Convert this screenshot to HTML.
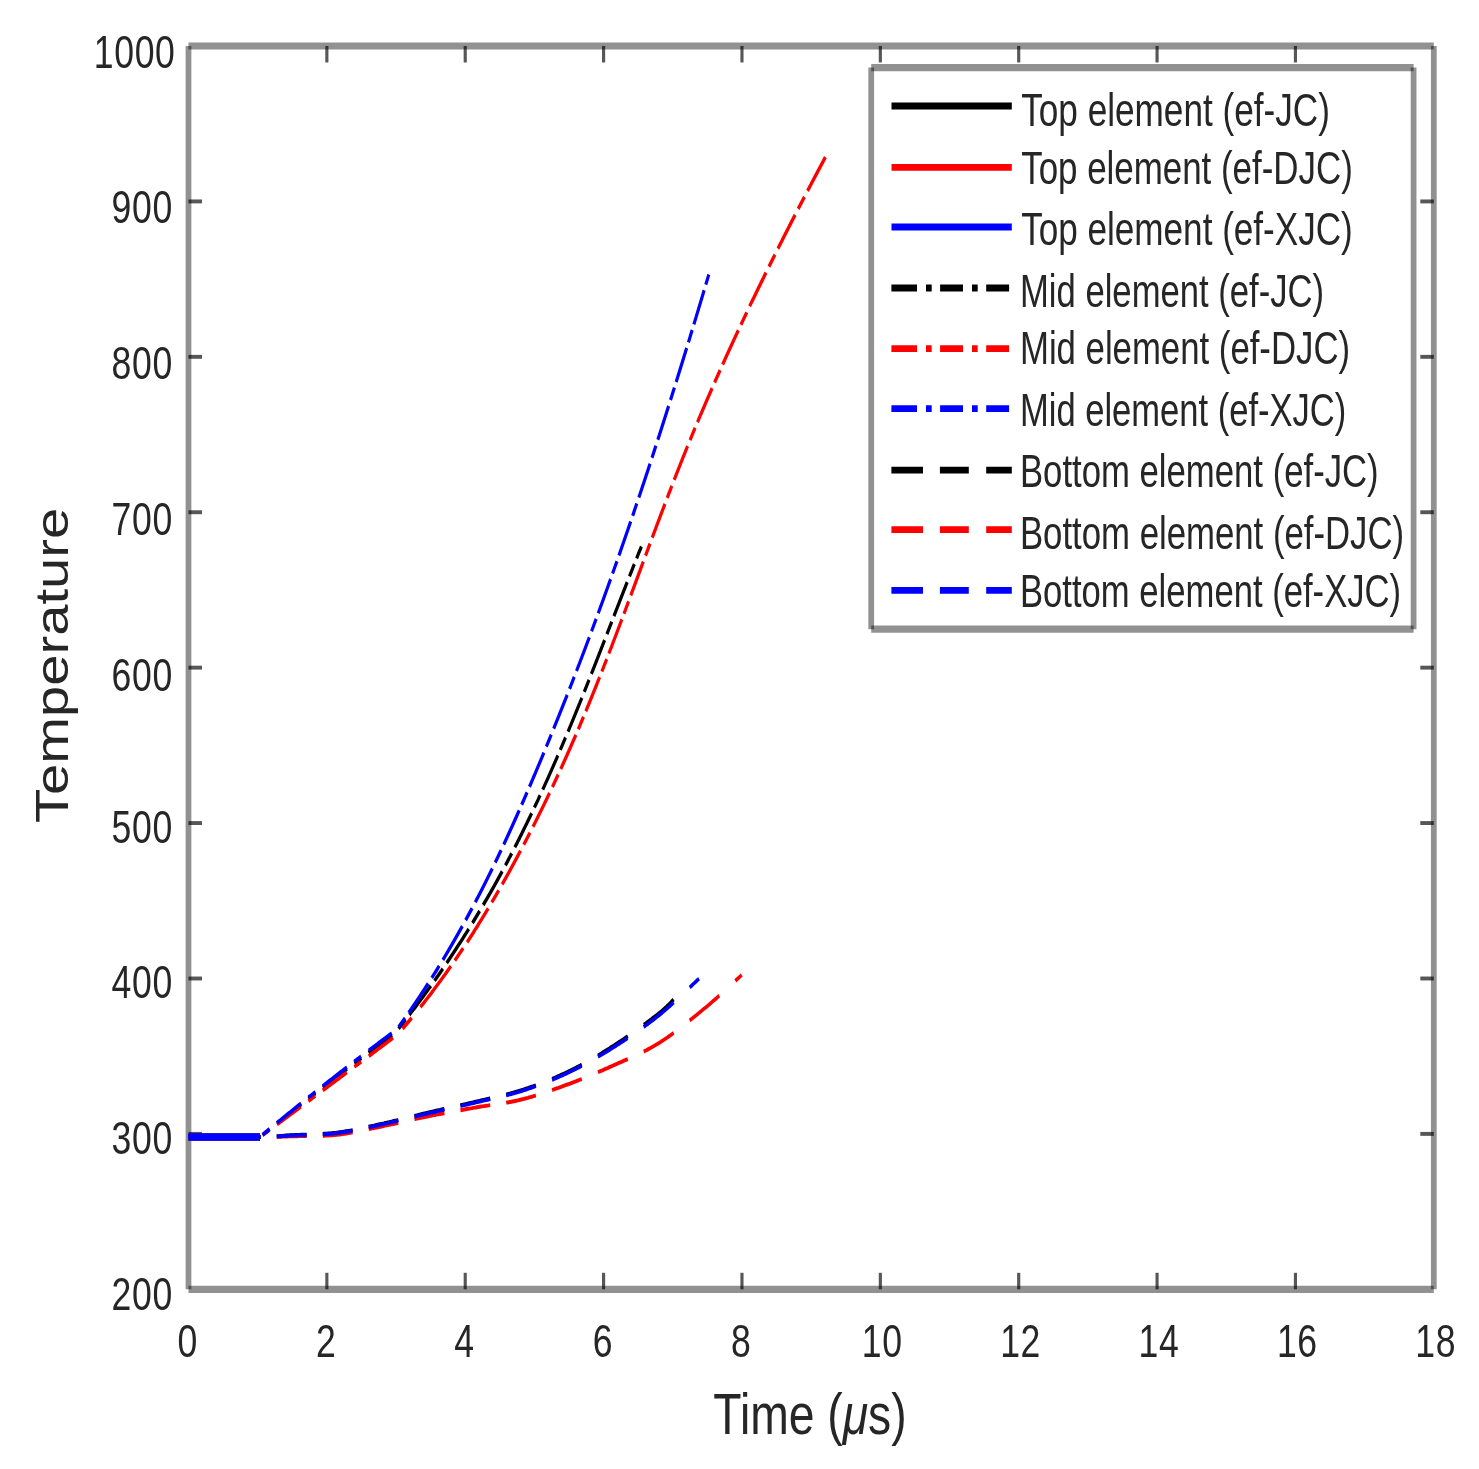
<!DOCTYPE html><html><head><meta charset="utf-8"><style>html,body{margin:0;padding:0;background:#fff;overflow:hidden;width:1479px;height:1469px;}svg{display:block;}svg{will-change:transform;}text{font-family:"Liberation Sans",sans-serif;fill:#262626;}</style></head><body>
<svg width="1479" height="1469" viewBox="0 0 540 430" preserveAspectRatio="none">
<rect x="0" y="0" width="540" height="430" fill="#fff"/>
<line x1="68.82" y1="13.46" x2="523.5" y2="13.46" stroke="rgba(0,0,0,0.43)" stroke-width="2.1"/>
<line x1="523.5" y1="13.46" x2="523.5" y2="377.4" stroke="rgba(0,0,0,0.43)" stroke-width="2.1"/>
<line x1="523.5" y1="377.4" x2="68.82" y2="377.4" stroke="rgba(0,0,0,0.43)" stroke-width="2.1"/>
<line x1="68.82" y1="377.4" x2="68.82" y2="13.46" stroke="rgba(0,0,0,0.43)" stroke-width="2.1"/>
<line x1="119.34" y1="377.4" x2="119.34" y2="372.57" stroke="rgba(0,0,0,0.66)" stroke-width="1.15"/>
<line x1="119.34" y1="13.46" x2="119.34" y2="18.29" stroke="rgba(0,0,0,0.66)" stroke-width="1.15"/>
<line x1="169.86" y1="377.4" x2="169.86" y2="372.57" stroke="rgba(0,0,0,0.66)" stroke-width="1.15"/>
<line x1="169.86" y1="13.46" x2="169.86" y2="18.29" stroke="rgba(0,0,0,0.66)" stroke-width="1.15"/>
<line x1="220.38" y1="377.4" x2="220.38" y2="372.57" stroke="rgba(0,0,0,0.66)" stroke-width="1.15"/>
<line x1="220.38" y1="13.46" x2="220.38" y2="18.29" stroke="rgba(0,0,0,0.66)" stroke-width="1.15"/>
<line x1="270.9" y1="377.4" x2="270.9" y2="372.57" stroke="rgba(0,0,0,0.66)" stroke-width="1.15"/>
<line x1="270.9" y1="13.46" x2="270.9" y2="18.29" stroke="rgba(0,0,0,0.66)" stroke-width="1.15"/>
<line x1="321.42" y1="377.4" x2="321.42" y2="372.57" stroke="rgba(0,0,0,0.66)" stroke-width="1.15"/>
<line x1="321.42" y1="13.46" x2="321.42" y2="18.29" stroke="rgba(0,0,0,0.66)" stroke-width="1.15"/>
<line x1="371.94" y1="377.4" x2="371.94" y2="372.57" stroke="rgba(0,0,0,0.66)" stroke-width="1.15"/>
<line x1="371.94" y1="13.46" x2="371.94" y2="18.29" stroke="rgba(0,0,0,0.66)" stroke-width="1.15"/>
<line x1="422.46" y1="377.4" x2="422.46" y2="372.57" stroke="rgba(0,0,0,0.66)" stroke-width="1.15"/>
<line x1="422.46" y1="13.46" x2="422.46" y2="18.29" stroke="rgba(0,0,0,0.66)" stroke-width="1.15"/>
<line x1="472.98" y1="377.4" x2="472.98" y2="372.57" stroke="rgba(0,0,0,0.66)" stroke-width="1.15"/>
<line x1="472.98" y1="13.46" x2="472.98" y2="18.29" stroke="rgba(0,0,0,0.66)" stroke-width="1.15"/>
<line x1="68.82" y1="331.91" x2="73.75" y2="331.91" stroke="rgba(0,0,0,0.66)" stroke-width="1.15"/>
<line x1="523.5" y1="331.91" x2="518.57" y2="331.91" stroke="rgba(0,0,0,0.66)" stroke-width="1.15"/>
<line x1="68.82" y1="286.42" x2="73.75" y2="286.42" stroke="rgba(0,0,0,0.66)" stroke-width="1.15"/>
<line x1="523.5" y1="286.42" x2="518.57" y2="286.42" stroke="rgba(0,0,0,0.66)" stroke-width="1.15"/>
<line x1="68.82" y1="240.92" x2="73.75" y2="240.92" stroke="rgba(0,0,0,0.66)" stroke-width="1.15"/>
<line x1="523.5" y1="240.92" x2="518.57" y2="240.92" stroke="rgba(0,0,0,0.66)" stroke-width="1.15"/>
<line x1="68.82" y1="195.43" x2="73.75" y2="195.43" stroke="rgba(0,0,0,0.66)" stroke-width="1.15"/>
<line x1="523.5" y1="195.43" x2="518.57" y2="195.43" stroke="rgba(0,0,0,0.66)" stroke-width="1.15"/>
<line x1="68.82" y1="149.94" x2="73.75" y2="149.94" stroke="rgba(0,0,0,0.66)" stroke-width="1.15"/>
<line x1="523.5" y1="149.94" x2="518.57" y2="149.94" stroke="rgba(0,0,0,0.66)" stroke-width="1.15"/>
<line x1="68.82" y1="104.45" x2="73.75" y2="104.45" stroke="rgba(0,0,0,0.66)" stroke-width="1.15"/>
<line x1="523.5" y1="104.45" x2="518.57" y2="104.45" stroke="rgba(0,0,0,0.66)" stroke-width="1.15"/>
<line x1="68.82" y1="58.96" x2="73.75" y2="58.96" stroke="rgba(0,0,0,0.66)" stroke-width="1.15"/>
<line x1="523.5" y1="58.96" x2="518.57" y2="58.96" stroke="rgba(0,0,0,0.66)" stroke-width="1.15"/>
<g fill="none" stroke-width="1.15" stroke-linejoin="round" stroke-linecap="butt">
<path d="M68.82 332.82 L94.93 332.82" stroke="#000" stroke-width="2"/>
<path d="M68.82 332.82 L94.93 332.82" stroke="#f00" stroke-width="2"/>
<path d="M68.82 332.82 L94.93 332.82" stroke="#00f" stroke-width="2"/>
<path d="M68.82 332.82 L69.24 332.82 L69.66 332.82 L70.08 332.82 L70.5 332.82 L70.92 332.82 L71.34 332.82 L71.76 332.82 L72.18 332.82 L72.6 332.82 L73.02 332.82 L73.44 332.82 L73.86 332.82 L74.28 332.82 L74.69 332.82 L75.11 332.82 L75.53 332.82 L75.95 332.82 L76.37 332.82 L76.48 332.82M79.1 332.82 L79.52 332.82 L79.94 332.82 L80.36 332.82 L80.78 332.82 L81.19 332.82 L81.61 332.82M84.34 332.82 L84.76 332.82 L85.18 332.82 L85.6 332.82 L86.02 332.82 L86.44 332.82 L86.86 332.82 L87.28 332.82 L87.69 332.82 L88.11 332.82 L88.53 332.82 L88.95 332.82 L89.37 332.82 L89.79 332.82 L90.21 332.82 L90.63 332.82 L91.05 332.82 L91.47 332.82 L91.89 332.82 L92.31 332.82 L92.73 332.82 L93.15 332.82M95.9 332.19 L96.34 331.91 L96.77 331.64 L97.2 331.36 L97.64 331.08 L98.07 330.8 L98.4 330.59M101.13 328.85 L101.56 328.57 L102 328.29 L102.44 328.02 L102.88 327.74 L103.32 327.46 L103.75 327.18 L104.19 326.9 L104.63 326.62 L105.07 326.35 L105.51 326.07 L105.95 325.79 L106.39 325.51 L106.84 325.23 L107.28 324.95 L107.72 324.68 L108.16 324.4 L108.6 324.12 L109.05 323.84 L109.49 323.56 L109.93 323.28M112.6 321.61 L113.04 321.33 L113.49 321.06 L113.94 320.78 L114.38 320.5 L114.83 320.22 L115.16 320.01M117.85 318.34 L118.3 318.06 L118.75 317.79 L119.2 317.51 L119.65 317.23 L120.1 316.95 L120.55 316.67 L121 316.39 L121.46 316.12 L121.91 315.84 L122.36 315.56 L122.81 315.28 L123.26 315 L123.72 314.72 L124.17 314.44 L124.62 314.17 L125.08 313.89 L125.53 313.61 L125.99 313.33 L126.44 313.05 L126.67 312.91M129.39 311.25 L129.81 311 L130.23 310.74 L130.65 310.49 L131.07 310.23 L131.49 309.98 L131.91 309.72M134.54 308.13 L134.96 307.87 L135.38 307.62 L135.81 307.36 L136.23 307.11 L136.65 306.85 L137.08 306.6 L137.5 306.34 L137.93 306.09 L138.35 305.83 L138.78 305.58 L139.2 305.32 L139.63 305.07 L140.05 304.81 L140.48 304.56 L140.9 304.3 L141.33 304.05 L141.76 303.79 L142.18 303.54 L142.61 303.28 L143.04 303.02 L143.14 302.96M145.51 301.1 L145.94 300.66 L146.38 300.22 L146.81 299.78 L147.24 299.34 L147.67 298.9 L148.09 298.47M149.47 297.04 L149.89 296.6 L150.31 296.16 L150.73 295.72 L151.14 295.29 L151.56 294.85 L151.97 294.41 L152.38 293.97 L152.79 293.53 L153.2 293.09 L153.6 292.65 L154.01 292.21 L154.41 291.78 L154.81 291.34 L155.21 290.9 L155.61 290.46 L156.01 290.02 L156.4 289.58 L156.8 289.14 L157.19 288.71 L157.29 288.6M158.65 287.06 L159.03 286.62 L159.42 286.18 L159.8 285.75 L160.18 285.31 L160.56 284.87 L160.94 284.43 L161.32 283.99 L161.69 283.55M163.09 281.91 L163.46 281.47 L163.82 281.03 L164.19 280.59 L164.55 280.15 L164.92 279.71 L165.28 279.28 L165.64 278.84 L166 278.4 L166.36 277.96 L166.71 277.52 L167.07 277.08 L167.42 276.64 L167.78 276.21 L168.13 275.77 L168.48 275.33 L168.83 274.89 L169.17 274.45 L169.52 274.01 L169.87 273.57 L170.21 273.13 L170.55 272.7 L170.89 272.26 L171.15 271.93M172.5 270.17 L172.83 269.74 L173.16 269.3 L173.49 268.86 L173.82 268.42 L174.15 267.98 L174.48 267.54 L174.81 267.1 L175.13 266.66M176.43 264.91 L176.75 264.47 L177.06 264.03 L177.38 263.59 L177.7 263.16 L178.01 262.72 L178.33 262.28 L178.64 261.84 L178.95 261.4 L179.26 260.96 L179.57 260.52 L179.88 260.09 L180.19 259.65 L180.5 259.21 L180.8 258.77 L181.11 258.33 L181.41 257.89 L181.71 257.45 L182.01 257.02 L182.31 256.58 L182.61 256.14 L182.91 255.7 L183.21 255.26 L183.36 255.04M184.53 253.29 L184.82 252.85 L185.11 252.41 L185.4 251.97 L185.69 251.53 L185.98 251.09 L186.27 250.66 L186.55 250.22 L186.84 249.78M187.97 248.02 L188.25 247.58 L188.53 247.15 L188.81 246.71 L189.08 246.27 L189.36 245.83 L189.64 245.39 L189.91 244.95 L190.18 244.51 L190.46 244.08 L190.73 243.64 L191 243.2 L191.27 242.76 L191.54 242.32 L191.81 241.88 L192.08 241.44 L192.35 241.01 L192.61 240.57 L192.88 240.13 L193.14 239.69 L193.41 239.25 L193.67 238.81 L193.93 238.37 L194.13 238.04M195.1 236.4 L195.36 235.96 L195.62 235.52 L195.88 235.08 L196.13 234.65 L196.39 234.21 L196.64 233.77 L196.9 233.33 L197.15 232.89 L197.21 232.78M198.16 231.14 L198.41 230.7 L198.66 230.26 L198.9 229.82 L199.15 229.38 L199.4 228.94 L199.64 228.5 L199.89 228.07 L200.14 227.63 L200.38 227.19 L200.62 226.75 L200.87 226.31 L201.11 225.87 L201.35 225.43 L201.59 225 L201.83 224.56 L202.07 224.12 L202.31 223.68 L202.55 223.24 L202.79 222.8 L203.03 222.36 L203.27 221.93 L203.5 221.49 L203.68 221.16M204.56 219.51 L204.8 219.07 L205.03 218.64 L205.27 218.2 L205.5 217.76 L205.73 217.32 L205.96 216.88 L206.19 216.44 L206.42 216 L206.48 215.89M207.4 214.14 L207.63 213.7 L207.85 213.26 L208.08 212.82 L208.31 212.39 L208.53 211.95 L208.76 211.51 L208.99 211.07 L209.21 210.63 L209.44 210.19 L209.66 209.75 L209.89 209.31 L210.11 208.88 L210.33 208.44 L210.56 208 L210.78 207.56 L211 207.12 L211.22 206.68 L211.44 206.24 L211.67 205.81 L211.89 205.37 L212.11 204.93 L212.33 204.49 L212.44 204.27M213.32 202.52 L213.54 202.08 L213.75 201.64 L213.97 201.2 L214.19 200.76 L214.41 200.32 L214.63 199.88 L214.84 199.45 L215.06 199.01M215.93 197.25 L216.14 196.81 L216.36 196.38 L216.57 195.94 L216.79 195.5 L217 195.06 L217.22 194.62 L217.43 194.18 L217.65 193.74 L217.86 193.3 L218.08 192.87 L218.29 192.43 L218.51 191.99 L218.72 191.55 L218.93 191.11 L219.15 190.67 L219.36 190.23 L219.57 189.8 L219.79 189.36 L220 188.92 L220.21 188.48 L220.43 188.04 L220.64 187.6 L220.75 187.38M221.6 185.63 L221.81 185.19 L222.02 184.75 L222.24 184.31 L222.45 183.87 L222.66 183.44 L222.88 183 L223.09 182.56 L223.3 182.12 L223.35 182.01M224.15 180.37 L224.36 179.93 L224.58 179.49 L224.79 179.05 L225 178.61 L225.22 178.17 L225.43 177.73 L225.64 177.3 L225.86 176.86 L226.07 176.42 L226.28 175.98 L226.5 175.54 L226.71 175.1 L226.92 174.66 L227.14 174.22 L227.35 173.79 L227.56 173.35 L227.78 172.91 L227.99 172.47 L228.21 172.03 L228.42 171.59 L228.64 171.15 L228.85 170.72 L229.01 170.39M229.82 168.74 L230.04 168.3 L230.25 167.86 L230.47 167.43 L230.69 166.99 L230.9 166.55 L231.12 166.11 L231.34 165.67 L231.55 165.23 L231.61 165.12M232.43 163.48 L232.65 163.04 L232.86 162.6 L233.08 162.16 L233.3 161.72 L233.52 161.29 L233.74 160.85 L233.96 160.41 L234.18 159.97" stroke="#000"/>
<path d="M68.82 332.82 L69.24 332.82 L69.66 332.82 L70.08 332.82 L70.5 332.82 L70.92 332.82 L71.34 332.82 L71.76 332.82 L72.18 332.82 L72.6 332.82 L73.02 332.82 L73.44 332.82 L73.86 332.82 L74.28 332.82 L74.69 332.82 L75.11 332.82 L75.53 332.82 L75.95 332.82 L76.37 332.82 L76.48 332.82M79.1 332.82 L79.52 332.82 L79.94 332.82 L80.36 332.82 L80.78 332.82 L81.19 332.82 L81.61 332.82M84.34 332.82 L84.76 332.82 L85.18 332.82 L85.6 332.82 L86.02 332.82 L86.44 332.82 L86.86 332.82 L87.28 332.82 L87.69 332.82 L88.11 332.82 L88.53 332.82 L88.95 332.82 L89.37 332.82 L89.79 332.82 L90.21 332.82 L90.63 332.82 L91.05 332.82 L91.47 332.82 L91.89 332.82 L92.31 332.82 L92.73 332.82 L93.15 332.82M95.88 332.26 L96.3 332.01 L96.72 331.75 L97.14 331.5 L97.56 331.25 L97.98 331 L98.4 330.75M101.14 329.13 L101.56 328.88 L101.98 328.63 L102.4 328.38 L102.82 328.13 L103.24 327.88 L103.66 327.63 L104.08 327.38 L104.5 327.13 L104.92 326.88 L105.34 326.63 L105.76 326.38 L106.18 326.13 L106.6 325.88 L107.02 325.63 L107.44 325.38 L107.86 325.13 L108.28 324.87 L108.7 324.62 L109.12 324.37 L109.54 324.12 L109.86 323.94M112.59 322.31 L113.01 322.06 L113.43 321.81 L113.85 321.56 L114.27 321.31 L114.68 321.06 L115.1 320.81M117.83 319.18 L118.25 318.93 L118.67 318.68 L119.09 318.43 L119.51 318.18 L119.92 317.93 L120.34 317.68 L120.76 317.43 L121.18 317.18 L121.6 316.93 L122.02 316.68 L122.44 316.43 L122.86 316.18 L123.28 315.93 L123.69 315.68 L124.11 315.43 L124.53 315.18 L124.95 314.93 L125.39 314.67 L125.84 314.4 L126.3 314.12 L126.64 313.92M129.38 312.28 L129.84 312.01 L130.29 311.73 L130.75 311.46 L131.2 311.19 L131.66 310.92 L131.89 310.78M134.62 309.14 L135.08 308.87 L135.53 308.6 L135.99 308.32 L136.44 308.05 L136.9 307.78 L137.35 307.5 L137.81 307.23 L138.26 306.96 L138.72 306.69 L139.18 306.41 L139.63 306.14 L140.09 305.87 L140.54 305.59 L141 305.32 L141.45 305.05 L141.91 304.77 L142.36 304.5 L142.81 304.23 L143.27 303.96 L143.5 303.82M146.98 301.13 L147.45 300.69 L147.91 300.25 L148.37 299.82 L148.83 299.38 L149.29 298.94 L149.74 298.5 L150.19 298.06 L150.3 297.95M153.51 294.77 L153.95 294.33 L154.38 293.89 L154.81 293.45 L155.23 293.01 L155.66 292.57 L156.08 292.13 L156.5 291.7 L156.92 291.26 L157.34 290.82 L157.76 290.38 L158.17 289.94 L158.58 289.5 L158.99 289.06 L159.4 288.62 L159.81 288.18 L160.21 287.75 L160.61 287.31 L161.01 286.87 L161.41 286.43 L161.81 285.99 L162.2 285.55 L162.6 285.11 L162.99 284.67 L163.38 284.23 L163.76 283.8 L164.15 283.36 L164.53 282.92 L164.63 282.81M166.06 281.16 L166.43 280.72 L166.81 280.28 L167.18 279.84 L167.55 279.41 L167.92 278.97 L168.29 278.53 L168.66 278.09 L169.02 277.65 L169.11 277.54M170.55 275.78 L170.91 275.35 L171.27 274.91 L171.62 274.47 L171.97 274.03 L172.32 273.59 L172.67 273.15 L173.02 272.71 L173.37 272.27 L173.71 271.83 L174.06 271.4 L174.4 270.96 L174.74 270.52 L175.08 270.08 L175.42 269.64 L175.76 269.2 L176.09 268.76 L176.43 268.32 L176.76 267.88 L177.1 267.45 L177.43 267.01 L177.76 266.57 L178.09 266.13 L178.25 265.91M179.55 264.15 L179.87 263.71 L180.19 263.28 L180.51 262.84 L180.83 262.4 L181.15 261.96 L181.46 261.52 L181.78 261.08 L182.09 260.64M183.34 258.89 L183.65 258.45 L183.96 258.01 L184.27 257.57 L184.57 257.13 L184.88 256.69 L185.18 256.25 L185.48 255.81 L185.79 255.37 L186.09 254.94 L186.39 254.5 L186.69 254.06 L186.99 253.62 L187.28 253.18 L187.58 252.74 L187.88 252.3 L188.17 251.86 L188.47 251.42 L188.76 250.99 L189.05 250.55 L189.34 250.11 L189.64 249.67 L189.93 249.23 L190.07 249.01M191.22 247.25 L191.51 246.82 L191.79 246.38 L192.08 245.94 L192.36 245.5 L192.64 245.06 L192.93 244.62 L193.21 244.18 L193.49 243.74M194.6 241.99 L194.88 241.55 L195.15 241.11 L195.43 240.67 L195.7 240.23 L195.98 239.79 L196.25 239.35 L196.52 238.91 L196.79 238.48 L197.06 238.04 L197.33 237.6 L197.6 237.16 L197.87 236.72 L198.14 236.28 L198.41 235.84 L198.67 235.4 L198.94 234.96 L199.2 234.53 L199.47 234.09 L199.73 233.65 L199.99 233.21 L200.25 232.77 L200.52 232.33 L200.65 232.11M201.68 230.36 L201.94 229.92 L202.2 229.48 L202.45 229.04 L202.71 228.6 L202.96 228.16 L203.22 227.72 L203.47 227.28 L203.72 226.84 L203.79 226.73M204.73 225.09 L204.98 224.65 L205.23 224.21 L205.47 223.77 L205.72 223.33 L205.97 222.89 L206.21 222.46 L206.46 222.02 L206.71 221.58 L206.95 221.14 L207.19 220.7 L207.44 220.26 L207.68 219.82 L207.92 219.38 L208.16 218.94 L208.4 218.5 L208.64 218.07 L208.88 217.63 L209.12 217.19 L209.36 216.75 L209.6 216.31 L209.84 215.87 L210.07 215.43 L210.25 215.1M211.13 213.46 L211.36 213.02 L211.6 212.58 L211.83 212.14 L212.06 211.7 L212.29 211.26 L212.52 210.82 L212.75 210.38 L212.98 209.95 L213.04 209.84M213.89 208.19 L214.12 207.75 L214.35 207.31 L214.57 206.87 L214.8 206.43 L215.02 206 L215.25 205.56 L215.47 205.12 L215.69 204.68 L215.92 204.24 L216.14 203.8 L216.36 203.36 L216.58 202.92 L216.8 202.48 L217.02 202.05 L217.24 201.61 L217.46 201.17 L217.68 200.73 L217.9 200.29 L218.12 199.85 L218.34 199.41 L218.56 198.97 L218.77 198.53 L218.94 198.2M219.75 196.56 L219.96 196.12 L220.18 195.68 L220.39 195.24 L220.6 194.8 L220.82 194.36 L221.03 193.93 L221.24 193.49 L221.46 193.05 L221.51 192.94M222.3 191.29 L222.51 190.85 L222.73 190.41 L222.94 189.97 L223.15 189.54 L223.36 189.1 L223.57 188.66 L223.78 188.22 L223.98 187.78 L224.19 187.34 L224.4 186.9 L224.61 186.46 L224.82 186.02 L225.03 185.59 L225.23 185.15 L225.44 184.71 L225.65 184.27 L225.85 183.83 L226.06 183.39 L226.27 182.95 L226.47 182.51 L226.68 182.07 L226.89 181.64 L227.04 181.31M227.81 179.66 L228.02 179.22 L228.22 178.78 L228.43 178.34 L228.63 177.9 L228.83 177.47 L229.04 177.03 L229.24 176.59 L229.45 176.15 L229.5 176.04M230.31 174.28 L230.52 173.84 L230.72 173.41 L230.92 172.97 L231.13 172.53 L231.33 172.09 L231.53 171.65 L231.74 171.21 L231.94 170.77 L232.14 170.33 L232.35 169.89 L232.55 169.46 L232.75 169.02 L232.95 168.58 L233.16 168.14 L233.36 167.7 L233.56 167.26 L233.77 166.82 L233.97 166.38 L234.17 165.94 L234.37 165.5 L234.58 165.07 L234.78 164.63 L234.88 164.41M235.69 162.65 L235.9 162.21 L236.1 161.77 L236.3 161.33 L236.51 160.9 L236.71 160.46 L236.91 160.02 L237.12 159.58 L237.32 159.14M238.14 157.38 L238.34 156.95 L238.55 156.51 L238.75 156.07 L238.96 155.63 L239.16 155.19 L239.37 154.75 L239.57 154.31 L239.78 153.87 L239.98 153.43 L240.19 153 L240.39 152.56 L240.6 152.12 L240.81 151.68 L241.01 151.24 L241.22 150.8 L241.43 150.36 L241.63 149.92 L241.84 149.48 L242.05 149.05 L242.26 148.61 L242.47 148.17 L242.67 147.73 L242.78 147.51M243.61 145.75 L243.82 145.31 L244.03 144.88 L244.24 144.44 L244.46 144 L244.67 143.56 L244.88 143.12 L245.09 142.68 L245.3 142.24M246.15 140.49 L246.36 140.05 L246.58 139.61 L246.79 139.17 L247.01 138.73 L247.22 138.29 L247.44 137.85 L247.65 137.41 L247.87 136.97 L248.09 136.54 L248.3 136.1 L248.52 135.66 L248.74 135.22 L248.96 134.78 L249.17 134.34 L249.39 133.9 L249.61 133.46 L249.83 133.02 L250.05 132.59 L250.27 132.15 L250.49 131.71 L250.72 131.27 L250.94 130.83 L251.05 130.61M251.94 128.85 L252.17 128.42 L252.39 127.98 L252.62 127.54 L252.84 127.1 L253.07 126.66 L253.3 126.22 L253.52 125.78 L253.75 125.34 L253.81 125.23M254.67 123.59 L254.9 123.15 L255.13 122.71 L255.36 122.27 L255.59 121.83 L255.82 121.39 L256.06 120.95 L256.29 120.51 L256.52 120.08 L256.76 119.64 L256.99 119.2 L257.22 118.76 L257.46 118.32 L257.69 117.88 L257.93 117.44 L258.17 117 L258.4 116.56 L258.64 116.13 L258.88 115.69 L259.12 115.25 L259.35 114.81 L259.59 114.37 L259.83 113.93 L260.01 113.6M260.92 111.96 L261.16 111.52 L261.4 111.08 L261.64 110.64 L261.89 110.2 L262.13 109.76 L262.37 109.32 L262.62 108.88 L262.86 108.44 L262.92 108.33M263.84 106.69 L264.09 106.25 L264.34 105.81 L264.59 105.37 L264.83 104.93 L265.08 104.49 L265.33 104.06 L265.58 103.62 L265.83 103.18 L266.08 102.74 L266.33 102.3 L266.58 101.86 L266.83 101.42 L267.08 100.98 L267.34 100.54 L267.59 100.1 L267.84 99.67 L268.1 99.23 L268.35 98.79 L268.6 98.35 L268.86 97.91 L269.11 97.47 L269.37 97.03 L269.56 96.7M270.52 95.06 L270.78 94.62 L271.03 94.18 L271.29 93.74 L271.55 93.3 L271.81 92.86 L272.07 92.42 L272.33 91.98 L272.59 91.55 L272.65 91.44M273.7 89.68 L273.96 89.24 L274.22 88.8 L274.48 88.36 L274.75 87.92 L275.01 87.49 L275.27 87.05 L275.54 86.61 L275.8 86.17 L276.07 85.73 L276.33 85.29 L276.6 84.85 L276.86 84.41 L277.13 83.97 L277.4 83.54 L277.66 83.1 L277.93 82.66 L278.2 82.22 L278.47 81.78 L278.73 81.34 L279 80.9 L279.27 80.46 L279.54 80.02 L279.68 79.8M280.76 78.05 L281.03 77.61 L281.3 77.17 L281.57 76.73 L281.84 76.29 L282.12 75.85 L282.39 75.42 L282.66 74.98 L282.94 74.54M284.03 72.78 L284.31 72.34 L284.58 71.9 L284.86 71.47 L285.14 71.03 L285.41 70.59 L285.69 70.15 L285.97 69.71 L286.24 69.27 L286.52 68.83 L286.8 68.39 L287.08 67.95 L287.36 67.51 L287.64 67.08 L287.91 66.64 L288.19 66.2 L288.47 65.76 L288.75 65.32 L289.03 64.88 L289.32 64.44 L289.6 64 L289.88 63.56 L290.16 63.13 L290.3 62.91M291.43 61.15 L291.71 60.71 L292 60.27 L292.28 59.83 L292.57 59.39 L292.85 58.96 L293.14 58.52 L293.42 58.08 L293.71 57.64M294.85 55.88 L295.14 55.44 L295.42 55.01 L295.71 54.57 L296 54.13 L296.29 53.69 L296.58 53.25 L296.86 52.81 L297.15 52.37 L297.44 51.93 L297.73 51.49 L298.02 51.06 L298.31 50.62 L298.6 50.18 L298.89 49.74 L299.18 49.3 L299.47 48.86 L299.76 48.42 L300.05 47.98 L300.35 47.54 L300.64 47.1 L300.93 46.67 L301.22 46.23 L301.37 46.01" stroke="#f00"/>
<path d="M68.82 332.82 L69.24 332.82 L69.66 332.82 L70.08 332.82 L70.5 332.82 L70.92 332.82 L71.34 332.82 L71.76 332.82 L72.18 332.82 L72.6 332.82 L73.02 332.82 L73.44 332.82 L73.86 332.82 L74.28 332.82 L74.69 332.82 L75.11 332.82 L75.53 332.82 L75.95 332.82 L76.37 332.82 L76.48 332.82M79.1 332.82 L79.52 332.82 L79.94 332.82 L80.36 332.82 L80.78 332.82 L81.19 332.82 L81.61 332.82M84.34 332.82 L84.76 332.82 L85.18 332.82 L85.6 332.82 L86.02 332.82 L86.44 332.82 L86.86 332.82 L87.28 332.82 L87.69 332.82 L88.11 332.82 L88.53 332.82 L88.95 332.82 L89.37 332.82 L89.79 332.82 L90.21 332.82 L90.63 332.82 L91.05 332.82 L91.47 332.82 L91.89 332.82 L92.31 332.82 L92.73 332.82 L93.15 332.82M95.88 332.18 L96.31 331.9 L96.73 331.61 L97.16 331.33 L97.59 331.04 L98.01 330.76 L98.44 330.48M101.12 328.7 L101.55 328.42 L101.99 328.13 L102.42 327.85 L102.85 327.57 L103.28 327.28 L103.72 327 L104.15 326.72 L104.59 326.43 L105.02 326.15 L105.46 325.86 L105.89 325.58 L106.33 325.3 L106.76 325.01 L107.2 324.73 L107.64 324.44 L108.08 324.16 L108.52 323.88 L108.96 323.59 L109.4 323.31 L109.84 323.03 L109.95 322.95M112.6 321.25 L113.04 320.97 L113.49 320.68 L113.93 320.4 L114.38 320.12 L114.82 319.83 L115.16 319.62M117.84 317.92 L118.29 317.63 L118.74 317.35 L119.19 317.06 L119.65 316.78 L120.1 316.5 L120.55 316.21 L121 315.93 L121.45 315.65 L121.91 315.36 L122.36 315.08 L122.82 314.79 L123.27 314.51 L123.73 314.23 L124.18 313.94 L124.64 313.66 L125.09 313.37 L125.52 313.11 L125.94 312.85 L126.36 312.59 L126.68 312.39M129.31 310.77 L129.74 310.51 L130.16 310.25 L130.58 309.99 L131.01 309.73 L131.43 309.47 L131.86 309.21M134.63 307.51 L135.06 307.25 L135.49 306.99 L135.92 306.73 L136.35 306.47 L136.78 306.21 L137.21 305.95 L137.64 305.69 L138.07 305.43 L138.5 305.17 L138.93 304.91 L139.36 304.65 L139.8 304.39 L140.23 304.13 L140.66 303.87 L141.1 303.61 L141.53 303.35 L141.97 303.09 L142.4 302.83 L142.84 302.57 L143.06 302.44M145.54 300.62 L145.93 300.18 L146.32 299.74 L146.71 299.3 L147.1 298.87 L147.49 298.43 L147.88 297.99M149.21 296.45 L149.59 296.01 L149.97 295.57 L150.34 295.14 L150.72 294.7 L151.09 294.26 L151.46 293.82 L151.83 293.38 L152.2 292.94 L152.57 292.5 L152.93 292.06 L153.3 291.63 L153.66 291.19 L154.02 290.75 L154.38 290.31 L154.74 289.87 L155.09 289.43 L155.45 288.99 L155.8 288.55 L156.15 288.12 L156.33 287.9M157.64 286.25 L157.98 285.81 L158.32 285.37 L158.67 284.93 L159.01 284.5 L159.35 284.06 L159.69 283.62 L160.02 283.18 L160.36 282.74M161.69 280.98 L162.02 280.55 L162.35 280.11 L162.67 279.67 L163 279.23 L163.32 278.79 L163.65 278.35 L163.97 277.91 L164.29 277.47 L164.61 277.04 L164.93 276.6 L165.24 276.16 L165.56 275.72 L165.87 275.28 L166.19 274.84 L166.5 274.4 L166.81 273.96 L167.12 273.53 L167.43 273.09 L167.74 272.65 L168.05 272.21 L168.35 271.77 L168.66 271.33 L168.81 271.11M170.01 269.36 L170.31 268.92 L170.61 268.48 L170.91 268.04 L171.2 267.6 L171.49 267.16 L171.79 266.72 L172.08 266.29 L172.37 265.85M173.53 264.09 L173.81 263.65 L174.1 263.21 L174.38 262.78 L174.67 262.34 L174.95 261.9 L175.23 261.46 L175.51 261.02 L175.79 260.58 L176.07 260.14 L176.35 259.7 L176.63 259.27 L176.9 258.83 L177.18 258.39 L177.45 257.95 L177.73 257.51 L178 257.07 L178.27 256.63 L178.54 256.19 L178.81 255.75 L179.08 255.32 L179.35 254.88 L179.62 254.44 L179.75 254.22M180.81 252.46 L181.07 252.03 L181.34 251.59 L181.6 251.15 L181.86 250.71 L182.12 250.27 L182.38 249.83 L182.64 249.39 L182.9 248.95 L182.96 248.84M183.92 247.2 L184.18 246.76 L184.43 246.32 L184.69 245.88 L184.94 245.44 L185.19 245 L185.44 244.57 L185.69 244.13 L185.94 243.69 L186.19 243.25 L186.44 242.81 L186.69 242.37 L186.94 241.93 L187.19 241.49 L187.43 241.06 L187.68 240.62 L187.92 240.18 L188.17 239.74 L188.41 239.3 L188.66 238.86 L188.9 238.42 L189.14 237.98 L189.39 237.55 L189.57 237.22M190.47 235.57 L190.71 235.13 L190.95 234.69 L191.19 234.25 L191.42 233.82 L191.66 233.38 L191.9 232.94 L192.14 232.5 L192.37 232.06 L192.43 231.95M193.31 230.31 L193.55 229.87 L193.78 229.43 L194.02 228.99 L194.25 228.55 L194.48 228.11 L194.72 227.67 L194.95 227.23 L195.18 226.8 L195.41 226.36 L195.64 225.92 L195.87 225.48 L196.1 225.04 L196.33 224.6 L196.56 224.16 L196.79 223.72 L197.02 223.28 L197.25 222.85 L197.48 222.41 L197.71 221.97 L197.94 221.53 L198.17 221.09 L198.39 220.65 L198.56 220.32M199.47 218.57 L199.7 218.13 L199.92 217.69 L200.15 217.25 L200.37 216.81 L200.6 216.37 L200.82 215.94 L201.04 215.5 L201.27 215.06M202.16 213.3 L202.38 212.86 L202.6 212.42 L202.82 211.99 L203.04 211.55 L203.26 211.11 L203.49 210.67 L203.71 210.23 L203.93 209.79 L204.15 209.35 L204.36 208.91 L204.58 208.48 L204.8 208.04 L205.02 207.6 L205.24 207.16 L205.46 206.72 L205.67 206.28 L205.89 205.84 L206.11 205.4 L206.33 204.97 L206.54 204.53 L206.76 204.09 L206.97 203.65 L207.08 203.43M207.94 201.67 L208.16 201.24 L208.37 200.8 L208.58 200.36 L208.8 199.92 L209.01 199.48 L209.22 199.04 L209.43 198.6 L209.65 198.16M210.49 196.41 L210.7 195.97 L210.91 195.53 L211.13 195.09 L211.34 194.65 L211.55 194.22 L211.75 193.78 L211.96 193.34 L212.17 192.9 L212.38 192.46 L212.59 192.02 L212.8 191.58 L213.01 191.14 L213.21 190.7 L213.42 190.27 L213.63 189.83 L213.83 189.39 L214.04 188.95 L214.25 188.51 L214.45 188.07 L214.66 187.63 L214.87 187.19 L215.07 186.76 L215.17 186.54M215.99 184.78 L216.19 184.34 L216.4 183.9 L216.6 183.47 L216.8 183.03 L217.01 182.59 L217.21 182.15 L217.41 181.71 L217.61 181.27 L217.66 181.16M218.42 179.52 L218.62 179.08 L218.82 178.64 L219.02 178.2 L219.22 177.76 L219.42 177.32 L219.62 176.88 L219.82 176.44 L220.02 176.01 L220.22 175.57 L220.42 175.13 L220.62 174.69 L220.81 174.25 L221.01 173.81 L221.21 173.37 L221.41 172.93 L221.6 172.5 L221.8 172.06 L222 171.62 L222.19 171.18 L222.39 170.74 L222.59 170.3 L222.78 169.86 L222.93 169.53M223.66 167.89 L223.85 167.45 L224.05 167.01 L224.24 166.57 L224.44 166.13 L224.63 165.69 L224.82 165.26 L225.02 164.82 L225.21 164.38 L225.26 164.27M225.98 162.62 L226.17 162.18 L226.36 161.75 L226.55 161.31 L226.74 160.87 L226.93 160.43 L227.12 159.99 L227.31 159.55 L227.5 159.11 L227.69 158.67 L227.88 158.23 L228.07 157.8 L228.26 157.36 L228.45 156.92 L228.64 156.48 L228.83 156.04 L229.02 155.6 L229.21 155.16 L229.39 154.72 L229.58 154.29 L229.77 153.85 L229.96 153.41 L230.14 152.97 L230.29 152.64M230.98 150.99 L231.17 150.56 L231.36 150.12 L231.54 149.68 L231.73 149.24 L231.91 148.8 L232.1 148.36 L232.28 147.92 L232.47 147.48 L232.51 147.37M233.25 145.62 L233.43 145.18 L233.62 144.74 L233.8 144.3 L233.98 143.86 L234.17 143.43 L234.35 142.99 L234.53 142.55 L234.71 142.11 L234.9 141.67 L235.08 141.23 L235.26 140.79 L235.44 140.35 L235.62 139.92 L235.8 139.48 L235.98 139.04 L236.17 138.6 L236.35 138.16 L236.53 137.72 L236.71 137.28 L236.89 136.84 L237.07 136.41 L237.25 135.97 L237.34 135.75M238.05 133.99 L238.23 133.55 L238.41 133.11 L238.59 132.68 L238.77 132.24 L238.94 131.8 L239.12 131.36 L239.3 130.92 L239.48 130.48M240.19 128.73 L240.36 128.29 L240.54 127.85 L240.72 127.41 L240.89 126.97 L241.07 126.53 L241.24 126.09 L241.42 125.66 L241.59 125.22 L241.77 124.78 L241.94 124.34 L242.12 123.9 L242.29 123.46 L242.47 123.02 L242.64 122.58 L242.82 122.14 L242.99 121.71 L243.17 121.27 L243.34 120.83 L243.51 120.39 L243.69 119.95 L243.86 119.51 L244.03 119.07 L244.12 118.85M244.81 117.1 L244.98 116.66 L245.16 116.22 L245.33 115.78 L245.5 115.34 L245.67 114.9 L245.84 114.47 L246.02 114.03 L246.19 113.59 L246.23 113.48M246.87 111.83 L247.04 111.39 L247.21 110.96 L247.38 110.52 L247.55 110.08 L247.72 109.64 L247.89 109.2 L248.06 108.76 L248.23 108.32 L248.4 107.88 L248.57 107.45 L248.74 107.01 L248.91 106.57 L249.08 106.13 L249.25 105.69 L249.42 105.25 L249.59 104.81 L249.75 104.37 L249.92 103.94 L250.09 103.5 L250.26 103.06 L250.43 102.62 L250.59 102.18 L250.72 101.85M251.35 100.21 L251.52 99.77 L251.68 99.33 L251.85 98.89 L252.02 98.45 L252.18 98.01 L252.35 97.57 L252.52 97.13 L252.68 96.7 L252.72 96.59M253.35 94.94 L253.51 94.5 L253.68 94.06 L253.84 93.62 L254.01 93.19 L254.17 92.75 L254.34 92.31 L254.5 91.87 L254.67 91.43 L254.83 90.99 L255 90.55 L255.16 90.11 L255.33 89.67 L255.49 89.24 L255.66 88.8 L255.82 88.36 L255.98 87.92 L256.15 87.48 L256.31 87.04 L256.48 86.6 L256.64 86.16 L256.8 85.73 L256.97 85.29 L257.09 84.96M257.7 83.31 L257.86 82.87 L258.03 82.43 L258.19 82 L258.35 81.56 L258.51 81.12 L258.68 80.68 L258.8 80.35" stroke="#00f"/>
<path d="M68.82 332.82 L69.24 332.82 L69.66 332.82 L70.08 332.82 L70.5 332.82 L70.92 332.82 L71.34 332.82 L71.76 332.82 L72.18 332.82 L72.6 332.82 L73.02 332.82 L73.44 332.82 L73.86 332.82 L74.28 332.82 L74.69 332.82 L75.11 332.82 L75.53 332.82 L75.95 332.82 L76.37 332.82 L76.79 332.82 L77.21 332.82 L77.63 332.82 L78.05 332.82 L78.47 332.82M84.34 332.82 L84.76 332.82 L85.18 332.82 L85.6 332.82 L86.02 332.82 L86.44 332.82 L86.86 332.82 L87.28 332.82 L87.69 332.82 L88.11 332.82 L88.53 332.82 L88.95 332.82 L89.37 332.82 L89.79 332.82 L90.21 332.82 L90.63 332.82 L91.05 332.82 L91.47 332.82 L91.89 332.82 L92.31 332.82 L92.73 332.82 L93.15 332.82 L93.57 332.82 L93.99 332.82 L94.4 332.82 L94.82 332.82 L95.25 332.81M101.06 332.62 L101.57 332.59 L102.07 332.55 L102.57 332.52 L103.09 332.49 L103.62 332.45 L104.04 332.43 L104.48 332.4 L104.94 332.37 L105.44 332.35 L105.86 332.32 L106.31 332.3 L106.78 332.28 L107.26 332.26 L107.75 332.24 L108.17 332.23 L108.6 332.21 L109.03 332.2 L109.47 332.19 L109.91 332.18 L110.36 332.16 L110.81 332.15 L111.27 332.14 L111.73 332.13 L111.96 332.12M117.86 331.92 L118.34 331.89 L118.83 331.87 L119.32 331.84 L119.8 331.81 L120.29 331.78 L120.77 331.75 L121.25 331.71 L121.73 331.67 L122.2 331.63 L122.68 331.59 L123.14 331.54 L123.61 331.49 L124.08 331.44 L124.54 331.39 L125.01 331.33 L125.48 331.27 L125.95 331.21 L126.41 331.15 L126.88 331.09 L127.35 331.02 L127.82 330.95 L128.28 330.89 L128.75 330.81M134.61 329.83 L135.07 329.74 L135.54 329.66 L136.01 329.57 L136.48 329.49 L136.94 329.4 L137.41 329.32 L137.88 329.23 L138.35 329.15 L138.81 329.07 L139.28 328.98 L139.74 328.9 L140.21 328.82 L140.67 328.73 L141.14 328.65 L141.6 328.56 L142.07 328.48 L142.53 328.39 L143 328.3 L143.46 328.22 L143.92 328.13 L144.39 328.04 L144.85 327.95 L145.31 327.86 L145.43 327.83M151.33 326.66 L151.79 326.56 L152.25 326.47 L152.72 326.38 L153.18 326.29 L153.64 326.19 L154.11 326.1 L154.57 326.01 L155.04 325.92 L155.5 325.83 L155.96 325.74 L156.43 325.65 L156.9 325.57 L157.36 325.48 L157.83 325.39 L158.29 325.31 L158.76 325.22 L159.23 325.13 L159.69 325.05 L160.16 324.96 L160.63 324.88 L161.09 324.79 L161.56 324.71 L162.03 324.63 L162.26 324.58M168.11 323.54 L168.58 323.45 L169.05 323.37 L169.52 323.28 L169.99 323.19 L170.45 323.11 L170.92 323.02 L171.39 322.93 L171.86 322.85 L172.33 322.76 L172.79 322.67 L173.26 322.58 L173.73 322.49 L174.19 322.4 L174.66 322.32 L175.13 322.23 L175.6 322.14 L176.06 322.05 L176.53 321.97 L177 321.88 L177.46 321.8 L177.93 321.71 L178.4 321.63 L178.86 321.54 L178.98 321.52M184.81 320.41 L185.28 320.31 L185.74 320.21 L186.21 320.11 L186.68 320.01 L187.14 319.91 L187.61 319.8 L188.08 319.69 L188.54 319.58 L189.01 319.47 L189.47 319.36 L189.94 319.24 L190.41 319.12 L190.87 319 L191.34 318.87 L191.8 318.75 L192.27 318.62 L192.74 318.5 L193.2 318.37 L193.67 318.24 L194.13 318.11 L194.6 317.98 L195.06 317.84 L195.53 317.71 L195.65 317.67M201.58 315.81 L202.05 315.65 L202.51 315.49 L202.98 315.33 L203.44 315.17 L203.91 315 L204.37 314.83 L204.84 314.66 L205.3 314.49 L205.77 314.32 L206.23 314.15 L206.7 313.97 L207.16 313.79 L207.63 313.61 L208.09 313.43 L208.56 313.24 L209.02 313.06 L209.49 312.87 L209.95 312.68 L210.42 312.48 L210.88 312.29 L211.35 312.09 L211.82 311.9 L212.28 311.7 L212.4 311.65M218.32 308.94 L218.79 308.72 L219.25 308.5 L219.71 308.27 L220.18 308.04 L220.64 307.82 L221.11 307.59 L221.57 307.35 L222.03 307.12 L222.5 306.89 L222.96 306.65 L223.42 306.42 L223.89 306.18 L224.35 305.94 L224.83 305.69 L225.3 305.44 L225.79 305.19 L226.24 304.95 L226.66 304.72 L227.09 304.49 L227.51 304.26 L227.94 304.03 L228.37 303.79 L228.8 303.55 L229.23 303.32M235.06 299.98 L235.53 299.71 L235.99 299.44 L236.44 299.17 L236.88 298.9 L237.32 298.64 L237.77 298.37 L238.26 298.06 L238.74 297.77 L239.21 297.48 L239.66 297.2 L240.11 296.91 L240.62 296.59 L241.11 296.27 L241.58 295.96 L242.03 295.64 L242.46 295.34 L242.9 295.01 L243.43 294.61 L243.93 294.23 L244.39 293.86 L244.83 293.49 L245.39 293.02 L245.95 292.54" stroke="#000"/>
<path d="M68.82 332.82 L69.24 332.82 L69.66 332.82 L70.08 332.82 L70.5 332.82 L70.92 332.82 L71.34 332.82 L71.76 332.82 L72.18 332.82 L72.6 332.82 L73.02 332.82 L73.44 332.82 L73.86 332.82 L74.28 332.82 L74.69 332.82 L75.11 332.82 L75.53 332.82 L75.95 332.82 L76.37 332.82 L76.79 332.82 L77.21 332.82 L77.63 332.82 L78.05 332.82 L78.47 332.82M84.34 332.82 L84.76 332.82 L85.18 332.82 L85.6 332.82 L86.02 332.82 L86.44 332.82 L86.86 332.82 L87.28 332.82 L87.69 332.82 L88.11 332.82 L88.53 332.82 L88.95 332.82 L89.37 332.82 L89.79 332.82 L90.21 332.82 L90.63 332.82 L91.05 332.82 L91.47 332.82 L91.89 332.82 L92.31 332.82 L92.73 332.82 L93.15 332.82 L93.57 332.82 L93.99 332.82 L94.4 332.82 L94.82 332.82 L95.25 332.82M101.06 332.75 L101.57 332.74 L102.07 332.73 L102.57 332.72 L103.09 332.7 L103.62 332.69 L104.04 332.68 L104.48 332.67 L104.94 332.65 L105.44 332.64 L105.86 332.63 L106.31 332.62 L106.78 332.61 L107.26 332.6 L107.75 332.59 L108.17 332.58 L108.6 332.58 L109.03 332.57 L109.47 332.57 L109.91 332.57 L110.36 332.56 L110.81 332.56 L111.27 332.56 L111.73 332.55 L111.96 332.55M117.86 332.45 L118.34 332.44 L118.83 332.42 L119.32 332.4 L119.8 332.38 L120.29 332.35 L120.77 332.33 L121.25 332.3 L121.73 332.27 L122.2 332.23 L122.68 332.19 L123.14 332.15 L123.61 332.11 L124.08 332.07 L124.54 332.02 L125.01 331.97 L125.48 331.91 L125.95 331.86 L126.41 331.8 L126.88 331.74 L127.35 331.68 L127.82 331.61 L128.28 331.55 L128.75 331.48M134.61 330.53 L135.07 330.45 L135.54 330.37 L136.01 330.29 L136.48 330.21 L136.94 330.13 L137.41 330.05 L137.88 329.97 L138.35 329.89 L138.81 329.81 L139.28 329.73 L139.74 329.66 L140.21 329.58 L140.67 329.5 L141.14 329.42 L141.6 329.35 L142.07 329.27 L142.53 329.19 L143 329.11 L143.46 329.03 L143.92 328.94 L144.39 328.86 L144.85 328.78 L145.31 328.7 L145.43 328.68M151.33 327.61 L151.79 327.52 L152.25 327.44 L152.72 327.36 L153.18 327.28 L153.64 327.2 L154.11 327.12 L154.57 327.04 L155.04 326.96 L155.5 326.88 L155.96 326.8 L156.43 326.73 L156.9 326.65 L157.36 326.58 L157.83 326.5 L158.29 326.43 L158.76 326.36 L159.23 326.28 L159.69 326.21 L160.16 326.14 L160.63 326.07 L161.09 326 L161.56 325.93 L162.03 325.86 L162.26 325.82M168.11 324.97 L168.58 324.9 L169.05 324.83 L169.52 324.77 L169.99 324.7 L170.45 324.63 L170.92 324.57 L171.39 324.5 L171.86 324.43 L172.33 324.37 L172.79 324.3 L173.26 324.23 L173.73 324.17 L174.19 324.1 L174.66 324.04 L175.13 323.97 L175.6 323.91 L176.06 323.85 L176.53 323.79 L177 323.74 L177.46 323.68 L177.93 323.62 L178.4 323.57 L178.86 323.51 L178.98 323.5M184.81 322.77 L185.28 322.7 L185.74 322.64 L186.21 322.57 L186.68 322.5 L187.14 322.42 L187.61 322.35 L188.08 322.27 L188.54 322.19 L189.01 322.11 L189.47 322.02 L189.94 321.93 L190.41 321.84 L190.87 321.75 L191.34 321.65 L191.8 321.55 L192.27 321.45 L192.74 321.35 L193.2 321.24 L193.67 321.13 L194.13 321.03 L194.6 320.92 L195.06 320.8 L195.53 320.69 L195.65 320.66M201.58 319.08 L202.05 318.94 L202.51 318.81 L202.98 318.68 L203.44 318.54 L203.91 318.41 L204.37 318.27 L204.84 318.14 L205.3 318 L205.77 317.86 L206.23 317.73 L206.7 317.59 L207.16 317.45 L207.63 317.31 L208.09 317.17 L208.56 317.03 L209.02 316.89 L209.49 316.75 L209.95 316.6 L210.42 316.46 L210.88 316.31 L211.35 316.17 L211.81 316.02 L212.28 315.87 L212.39 315.83M218.31 313.86 L218.78 313.7 L219.24 313.54 L219.71 313.38 L220.17 313.22 L220.64 313.05 L221.1 312.89 L221.56 312.72 L222.03 312.56 L222.49 312.39 L222.96 312.22 L223.42 312.06 L223.89 311.89 L224.35 311.72 L224.82 311.55 L225.28 311.39 L225.74 311.22 L226.21 311.06 L226.67 310.89 L227.14 310.73 L227.6 310.56 L228.07 310.4 L228.53 310.24 L228.99 310.07 L229.23 309.99M235.03 307.81 L235.49 307.62 L235.96 307.43 L236.42 307.23 L236.89 307.03 L237.35 306.83 L237.82 306.62 L238.28 306.41 L238.75 306.2 L239.21 305.98 L239.68 305.76 L240.14 305.53 L240.61 305.3 L241.08 305.06 L241.55 304.82 L242.02 304.58 L242.49 304.32 L242.97 304.06 L243.44 303.8 L243.92 303.53 L244.4 303.26 L244.88 302.99 L245.36 302.7 L245.85 302.42 L245.97 302.35M251.82 298.72 L252.29 298.41 L252.75 298.11 L253.21 297.81 L253.67 297.51 L254.13 297.22 L254.58 296.92 L255.02 296.63 L255.47 296.34 L255.9 296.05 L256.34 295.76 L256.77 295.48 L257.19 295.2 L257.62 294.92 L258.04 294.64 L258.47 294.35 L258.9 294.05 L259.33 293.76 L259.77 293.45 L260.21 293.15 L260.65 292.84 L261.09 292.53 L261.53 292.22 L261.96 291.91 L262.4 291.59 L262.62 291.44M268.48 287.12 L268.94 286.77 L269.38 286.44 L269.92 286.05 L270.39 285.7 L270.8 285.4" stroke="#f00"/>
<path d="M68.82 332.82 L69.24 332.82 L69.66 332.82 L70.08 332.82 L70.5 332.82 L70.92 332.82 L71.34 332.82 L71.76 332.82 L72.18 332.82 L72.6 332.82 L73.02 332.82 L73.44 332.82 L73.86 332.82 L74.28 332.82 L74.69 332.82 L75.11 332.82 L75.53 332.82 L75.95 332.82 L76.37 332.82 L76.79 332.82 L77.21 332.82 L77.63 332.82 L78.05 332.82 L78.47 332.82M84.34 332.82 L84.76 332.82 L85.18 332.82 L85.6 332.82 L86.02 332.82 L86.44 332.82 L86.86 332.82 L87.28 332.82 L87.69 332.82 L88.11 332.82 L88.53 332.82 L88.95 332.82 L89.37 332.82 L89.79 332.82 L90.21 332.82 L90.63 332.82 L91.05 332.82 L91.47 332.82 L91.89 332.82 L92.31 332.82 L92.73 332.82 L93.15 332.82 L93.57 332.82 L93.99 332.82 L94.4 332.82 L94.82 332.82 L95.25 332.81M101.06 332.66 L101.57 332.63 L102.07 332.61 L102.57 332.58 L103.09 332.55 L103.62 332.52 L104.04 332.5 L104.48 332.47 L104.94 332.45 L105.44 332.43 L105.86 332.41 L106.31 332.39 L106.78 332.37 L107.26 332.35 L107.75 332.33 L108.17 332.32 L108.6 332.31 L109.03 332.3 L109.47 332.28 L109.91 332.27 L110.36 332.26 L110.81 332.25 L111.27 332.24 L111.73 332.23 L111.96 332.22M117.86 332.03 L118.34 332 L118.83 331.98 L119.32 331.95 L119.8 331.92 L120.29 331.89 L120.77 331.86 L121.25 331.82 L121.73 331.79 L122.2 331.75 L122.68 331.7 L123.14 331.66 L123.61 331.61 L124.08 331.56 L124.54 331.51 L125.01 331.45 L125.48 331.4 L125.95 331.34 L126.41 331.28 L126.88 331.22 L127.35 331.15 L127.82 331.09 L128.28 331.02 L128.75 330.95M134.61 329.98 L135.07 329.9 L135.54 329.82 L136.01 329.74 L136.48 329.65 L136.94 329.57 L137.41 329.49 L137.88 329.4 L138.35 329.32 L138.81 329.24 L139.28 329.16 L139.74 329.07 L140.21 328.99 L140.67 328.91 L141.14 328.83 L141.6 328.74 L142.07 328.66 L142.53 328.57 L143 328.49 L143.46 328.4 L143.92 328.31 L144.39 328.22 L144.85 328.13 L145.31 328.04 L145.43 328.02M151.33 326.85 L151.79 326.76 L152.25 326.67 L152.72 326.58 L153.18 326.49 L153.64 326.4 L154.11 326.31 L154.57 326.22 L155.04 326.13 L155.5 326.04 L155.96 325.95 L156.43 325.86 L156.9 325.77 L157.36 325.68 L157.83 325.6 L158.29 325.51 L158.76 325.43 L159.23 325.34 L159.69 325.25 L160.16 325.17 L160.63 325.08 L161.09 325 L161.56 324.92 L162.03 324.83 L162.26 324.79M168.11 323.74 L168.58 323.65 L169.05 323.57 L169.52 323.48 L169.99 323.4 L170.45 323.31 L170.92 323.23 L171.39 323.14 L171.86 323.05 L172.33 322.96 L172.79 322.88 L173.26 322.79 L173.73 322.7 L174.19 322.61 L174.66 322.52 L175.13 322.43 L175.6 322.35 L176.06 322.26 L176.53 322.18 L177 322.09 L177.46 322.01 L177.93 321.92 L178.4 321.84 L178.86 321.75 L178.98 321.73M184.81 320.63 L185.28 320.53 L185.74 320.43 L186.21 320.34 L186.68 320.23 L187.14 320.13 L187.61 320.03 L188.08 319.92 L188.54 319.81 L189.01 319.7 L189.47 319.59 L189.94 319.47 L190.41 319.35 L190.87 319.23 L191.34 319.11 L191.8 318.99 L192.27 318.86 L192.74 318.74 L193.2 318.61 L193.67 318.48 L194.13 318.35 L194.6 318.22 L195.06 318.09 L195.53 317.95 L195.65 317.92M201.58 316.07 L202.05 315.92 L202.51 315.76 L202.98 315.6 L203.44 315.44 L203.91 315.28 L204.37 315.11 L204.84 314.94 L205.3 314.78 L205.77 314.61 L206.23 314.43 L206.7 314.26 L207.16 314.08 L207.63 313.91 L208.09 313.73 L208.56 313.55 L209.02 313.36 L209.49 313.18 L209.95 312.99 L210.42 312.8 L210.88 312.61 L211.35 312.42 L211.82 312.22 L212.28 312.03 L212.4 311.98M218.32 309.33 L218.79 309.11 L219.25 308.89 L219.71 308.67 L220.18 308.45 L220.64 308.22 L221.11 308 L221.57 307.77 L222.03 307.54 L222.5 307.32 L222.96 307.08 L223.42 306.85 L223.89 306.62 L224.35 306.39 L224.82 306.15 L225.28 305.91 L225.75 305.67 L226.22 305.43 L226.68 305.19 L227.15 304.94 L227.62 304.69 L228.09 304.45 L228.56 304.19 L229.03 303.94 L229.15 303.88M234.99 300.62 L235.45 300.35 L235.91 300.08 L236.37 299.81 L236.82 299.53 L237.28 299.26 L237.73 298.99 L238.18 298.71 L238.63 298.44 L239.07 298.16 L239.51 297.88 L239.95 297.6 L240.39 297.32 L240.83 297.04 L241.27 296.75 L241.73 296.45 L242.18 296.14 L242.65 295.82 L243.11 295.5 L243.59 295.17 L244.06 294.83 L244.54 294.49 L245.01 294.15 L245.49 293.8 L245.97 293.45M251.82 289.06 L252.28 288.71 L252.72 288.37 L253.14 288.05 L253.63 287.67 L254.09 287.32 L254.63 286.91 L255.1 286.56 L255.21 286.48" stroke="#00f"/>
<path d="M68.82 332.82 L94.93 332.82" stroke="#00f" stroke-width="2"/>
</g>
<text transform="translate(44.35 383.46) scale(0.97 1)" font-size="13.4" text-anchor="middle">2</text>
<text transform="translate(51.8 383.46) scale(0.97 1)" font-size="13.4" text-anchor="middle">0</text>
<text transform="translate(59.26 383.46) scale(0.97 1)" font-size="13.4" text-anchor="middle">0</text>
<text transform="translate(44.35 337.79) scale(0.97 1)" font-size="13.4" text-anchor="middle">3</text>
<text transform="translate(51.8 337.79) scale(0.97 1)" font-size="13.4" text-anchor="middle">0</text>
<text transform="translate(59.26 337.79) scale(0.97 1)" font-size="13.4" text-anchor="middle">0</text>
<text transform="translate(44.35 292.1) scale(0.97 1)" font-size="13.4" text-anchor="middle">4</text>
<text transform="translate(51.8 292.1) scale(0.97 1)" font-size="13.4" text-anchor="middle">0</text>
<text transform="translate(59.26 292.1) scale(0.97 1)" font-size="13.4" text-anchor="middle">0</text>
<text transform="translate(44.35 246.79) scale(0.97 1)" font-size="13.4" text-anchor="middle">5</text>
<text transform="translate(51.8 246.79) scale(0.97 1)" font-size="13.4" text-anchor="middle">0</text>
<text transform="translate(59.26 246.79) scale(0.97 1)" font-size="13.4" text-anchor="middle">0</text>
<text transform="translate(44.35 202.18) scale(0.97 1)" font-size="13.4" text-anchor="middle">6</text>
<text transform="translate(51.8 202.18) scale(0.97 1)" font-size="13.4" text-anchor="middle">0</text>
<text transform="translate(59.26 202.18) scale(0.97 1)" font-size="13.4" text-anchor="middle">0</text>
<text transform="translate(44.35 156.6) scale(0.97 1)" font-size="13.4" text-anchor="middle">7</text>
<text transform="translate(51.8 156.6) scale(0.97 1)" font-size="13.4" text-anchor="middle">0</text>
<text transform="translate(59.26 156.6) scale(0.97 1)" font-size="13.4" text-anchor="middle">0</text>
<text transform="translate(44.35 111) scale(0.97 1)" font-size="13.4" text-anchor="middle">8</text>
<text transform="translate(51.8 111) scale(0.97 1)" font-size="13.4" text-anchor="middle">0</text>
<text transform="translate(59.26 111) scale(0.97 1)" font-size="13.4" text-anchor="middle">0</text>
<text transform="translate(44.35 65.42) scale(0.97 1)" font-size="13.4" text-anchor="middle">9</text>
<text transform="translate(51.8 65.42) scale(0.97 1)" font-size="13.4" text-anchor="middle">0</text>
<text transform="translate(59.26 65.42) scale(0.97 1)" font-size="13.4" text-anchor="middle">0</text>
<text transform="translate(37.88 19.76) scale(0.97 1)" font-size="13.4" text-anchor="middle">1</text>
<text transform="translate(45.34 19.76) scale(0.97 1)" font-size="13.4" text-anchor="middle">0</text>
<text transform="translate(52.79 19.76) scale(0.97 1)" font-size="13.4" text-anchor="middle">0</text>
<text transform="translate(60.24 19.76) scale(0.97 1)" font-size="13.4" text-anchor="middle">0</text>
<text transform="translate(68.46 397.36) scale(0.97 1)" font-size="13.4" text-anchor="middle">0</text>
<text transform="translate(118.98 397.36) scale(0.97 1)" font-size="13.4" text-anchor="middle">2</text>
<text transform="translate(169.5 397.36) scale(0.97 1)" font-size="13.4" text-anchor="middle">4</text>
<text transform="translate(220.02 397.36) scale(0.97 1)" font-size="13.4" text-anchor="middle">6</text>
<text transform="translate(270.54 397.36) scale(0.97 1)" font-size="13.4" text-anchor="middle">8</text>
<text transform="translate(318.28 397.36) scale(0.97 1)" font-size="13.4" text-anchor="middle">1</text>
<text transform="translate(325.73 397.36) scale(0.97 1)" font-size="13.4" text-anchor="middle">0</text>
<text transform="translate(368.8 397.36) scale(0.97 1)" font-size="13.4" text-anchor="middle">1</text>
<text transform="translate(376.25 397.36) scale(0.97 1)" font-size="13.4" text-anchor="middle">2</text>
<text transform="translate(419.32 397.36) scale(0.97 1)" font-size="13.4" text-anchor="middle">1</text>
<text transform="translate(426.77 397.36) scale(0.97 1)" font-size="13.4" text-anchor="middle">4</text>
<text transform="translate(469.84 397.36) scale(0.97 1)" font-size="13.4" text-anchor="middle">1</text>
<text transform="translate(477.29 397.36) scale(0.97 1)" font-size="13.4" text-anchor="middle">6</text>
<text transform="translate(520.35 397.36) scale(0.97 1)" font-size="13.4" text-anchor="middle">1</text>
<text transform="translate(527.81 397.36) scale(0.97 1)" font-size="13.4" text-anchor="middle">8</text>
<text x="295.74" y="419.7" font-size="16.9" text-anchor="middle">Time (<tspan font-style="italic">&#956;</tspan>s)</text>
<text transform="translate(24.79 240.55) rotate(-90)" x="-0.36" y="0" font-size="16.9" textLength="92.29" lengthAdjust="spacingAndGlyphs">Temperature</text>
<rect x="318.09" y="19.79" width="198.04" height="164.39" fill="#fff"/>
<line x1="318.09" y1="19.79" x2="516.12" y2="19.79" stroke="rgba(0,0,0,0.43)" stroke-width="2.1"/>
<line x1="516.12" y1="19.79" x2="516.12" y2="184.18" stroke="rgba(0,0,0,0.43)" stroke-width="2.1"/>
<line x1="516.12" y1="184.18" x2="318.09" y2="184.18" stroke="rgba(0,0,0,0.43)" stroke-width="2.1"/>
<line x1="318.09" y1="184.18" x2="318.09" y2="19.79" stroke="rgba(0,0,0,0.43)" stroke-width="2.1"/>
<path d="M325.5 31.03H369.42" stroke="#000" stroke-width="2" fill="none"/>
<text x="372.86" y="36.82" font-size="13.4" textLength="112.69" lengthAdjust="spacingAndGlyphs">Top element (ef-JC)</text>
<path d="M325.5 48.97H369.42" stroke="#f00" stroke-width="2" fill="none"/>
<text x="372.86" y="53.8" font-size="13.4" textLength="121.05" lengthAdjust="spacingAndGlyphs">Top element (ef-DJC)</text>
<path d="M325.5 66.45H369.42" stroke="#00f" stroke-width="2" fill="none"/>
<text x="372.86" y="71.74" font-size="13.4" textLength="121.05" lengthAdjust="spacingAndGlyphs">Top element (ef-XJC)</text>
<path d="M325.46 84.3H334.81M338.09 84.3H340.17M343.24 84.3H351.6M354.89 84.3H356.97M360.07 84.3H368.43" stroke="#000" stroke-width="2" fill="none"/>
<text x="372.4" y="89.92" font-size="13.4" textLength="111.06" lengthAdjust="spacingAndGlyphs">Mid element (ef-JC)</text>
<path d="M325.46 102.04H334.81M338.09 102.04H340.17M343.24 102.04H351.6M354.89 102.04H356.97M360.07 102.04H368.43" stroke="#f00" stroke-width="2" fill="none"/>
<text x="372.4" y="106.52" font-size="13.4" textLength="120.52" lengthAdjust="spacingAndGlyphs">Mid element (ef-DJC)</text>
<path d="M325.46 119.63H334.81M338.09 119.63H340.17M343.24 119.63H351.6M354.89 119.63H356.97M360.07 119.63H368.43" stroke="#00f" stroke-width="2" fill="none"/>
<text x="372.4" y="124.73" font-size="13.4" textLength="119.16" lengthAdjust="spacingAndGlyphs">Mid element (ef-XJC)</text>
<path d="M325.46 137.61H337M343.17 137.61H353.72M360.07 137.61H369.42" stroke="#000" stroke-width="2" fill="none"/>
<text x="372.4" y="142.64" font-size="13.4" textLength="130.97" lengthAdjust="spacingAndGlyphs">Bottom element (ef-JC)</text>
<path d="M325.46 155.05H337M343.17 155.05H353.72M360.07 155.05H369.42" stroke="#f00" stroke-width="2" fill="none"/>
<text x="372.4" y="160.58" font-size="13.4" textLength="140.27" lengthAdjust="spacingAndGlyphs">Bottom element (ef-DJC)</text>
<path d="M325.46 172.79H337M343.17 172.79H353.72M360.07 172.79H369.42" stroke="#00f" stroke-width="2" fill="none"/>
<text x="372.4" y="177.59" font-size="13.4" textLength="139.18" lengthAdjust="spacingAndGlyphs">Bottom element (ef-XJC)</text>
</svg></body></html>
